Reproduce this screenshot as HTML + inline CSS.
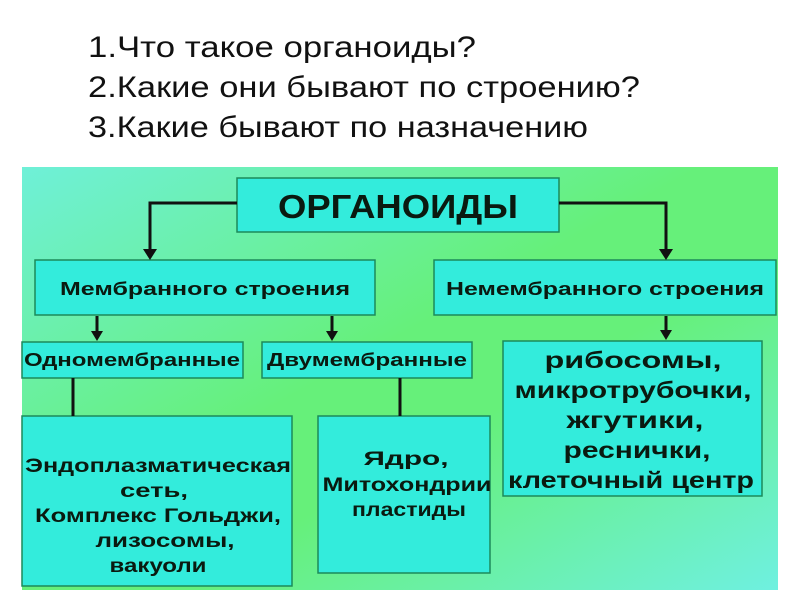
<!DOCTYPE html>
<html><head><meta charset="utf-8"><style>
html,body{margin:0;padding:0;background:#fff;width:800px;height:600px;overflow:hidden}
svg{display:block}
text{font-family:"Liberation Sans",sans-serif}
.b{font-weight:bold;fill:#0a1a10}
</style></head><body>
<svg width="800" height="600" viewBox="0 0 800 600">
<defs>
<linearGradient id="bg" x1="0" y1="0" x2="1" y2="1">
<stop offset="0" stop-color="#6ff0d8"/>
<stop offset="0.45" stop-color="#66f07a"/>
<stop offset="0.6" stop-color="#66f07a"/>
<stop offset="1" stop-color="#6ff0e0"/>
</linearGradient>
</defs>
<g font-size="30" fill="#111">
<text x="88" y="57" textLength="388" lengthAdjust="spacingAndGlyphs">1.Что такое органоиды?</text>
<text x="88" y="97" textLength="552" lengthAdjust="spacingAndGlyphs">2.Какие они бывают по строению?</text>
<text x="88" y="137" textLength="500" lengthAdjust="spacingAndGlyphs">3.Какие бывают по назначению</text>
</g>
<rect x="22" y="167" width="756" height="423" fill="url(#bg)"/>
<g fill="#33ecdc" stroke="#1c8a5a" stroke-width="1.5">
<rect x="237" y="178" width="322" height="54"/>
<rect x="35" y="260" width="340" height="55"/>
<rect x="434" y="260" width="342" height="55"/>
<rect x="22" y="342" width="221" height="36"/>
<rect x="262" y="342" width="210" height="36"/>
<rect x="503" y="341" width="259" height="155"/>
<rect x="22" y="416" width="270" height="170"/>
<rect x="318" y="416" width="172" height="157"/>
</g>
<g stroke="#111" stroke-width="3" fill="none">
<polyline points="237,203 150,203 150,250"/>
<polyline points="559,203 666,203 666,250"/>
<line x1="97" y1="316" x2="97" y2="333"/>
<line x1="332" y1="316" x2="332" y2="333"/>
<line x1="666" y1="316" x2="666" y2="332"/>
<line x1="73" y1="378" x2="73" y2="416"/>
<line x1="400" y1="378" x2="400" y2="416"/>
</g>
<g fill="#111">
<polygon points="143,249 157,249 150,260"/>
<polygon points="659,249 673,249 666,260"/>
<polygon points="91,331 103,331 97,341"/>
<polygon points="326,331 338,331 332,341"/>
<polygon points="660,330 672,330 666,340"/>
</g>
<g class="b" text-anchor="middle">
<text x="398" y="218" font-size="33" textLength="240" lengthAdjust="spacingAndGlyphs">ОРГАНОИДЫ</text>
<text x="205" y="295" font-size="18" textLength="290" lengthAdjust="spacingAndGlyphs">Мембранного строения</text>
<text x="605" y="295" font-size="18" textLength="318" lengthAdjust="spacingAndGlyphs">Немембранного строения</text>
<text x="132" y="366" font-size="18" textLength="216" lengthAdjust="spacingAndGlyphs">Одномембранные</text>
<text x="367" y="366" font-size="18" textLength="200" lengthAdjust="spacingAndGlyphs">Двумембранные</text>
<g font-size="23">
<text x="633" y="368" textLength="177" lengthAdjust="spacingAndGlyphs">рибосомы,</text>
<text x="633" y="398" textLength="237" lengthAdjust="spacingAndGlyphs">микротрубочки,</text>
<text x="635" y="428" textLength="137" lengthAdjust="spacingAndGlyphs">жгутики,</text>
<text x="637" y="458" textLength="147" lengthAdjust="spacingAndGlyphs">реснички,</text>
<text x="631" y="488" textLength="246" lengthAdjust="spacingAndGlyphs">клеточный центр</text>
</g>
<g font-size="19">
<text x="158" y="472" textLength="266" lengthAdjust="spacingAndGlyphs">Эндоплазматическая</text>
<text x="154" y="497" textLength="68" lengthAdjust="spacingAndGlyphs">сеть,</text>
<text x="158" y="522" textLength="246" lengthAdjust="spacingAndGlyphs">Комплекс Гольджи,</text>
<text x="165" y="547" textLength="139" lengthAdjust="spacingAndGlyphs">лизосомы,</text>
<text x="158" y="572" textLength="97" lengthAdjust="spacingAndGlyphs">вакуоли</text>
<text x="406" y="465" textLength="85" lengthAdjust="spacingAndGlyphs">Ядро,</text>
<text x="407" y="491" textLength="169" lengthAdjust="spacingAndGlyphs">Митохондрии</text>
<text x="409" y="516" textLength="114" lengthAdjust="spacingAndGlyphs">пластиды</text>
</g>
</g>
</svg>
</body></html>
